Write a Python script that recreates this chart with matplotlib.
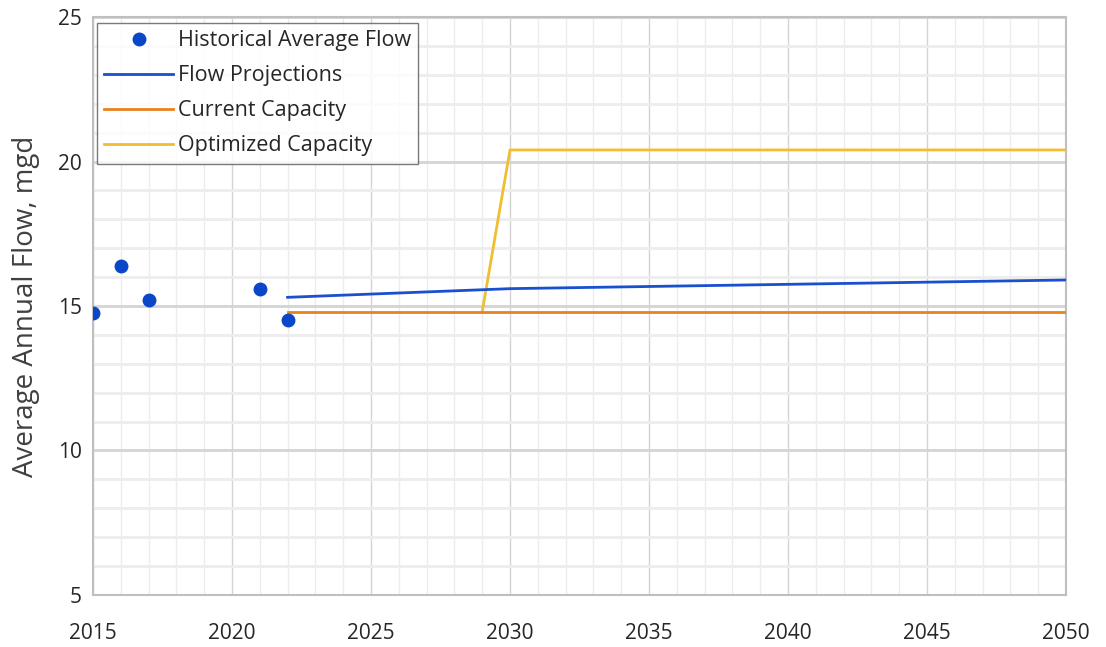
import numpy as np
import matplotlib.pyplot as plt
from matplotlib.ticker import MultipleLocator

plt.rcParams['font.family'] = ['Open Sans', 'DejaVu Sans']

# historical data
hist_years = [2015, 2016, 2017, 2021, 2022]
hist_flow = [14.75, 16.4, 15.2, 15.6, 14.5]

# projections
proj_years = [2022, 2030, 2050]
proj_flow = [15.3, 15.6, 15.9]

cur_years = [2022, 2050]
cur_cap = [14.8, 14.8]

opt_years = [2029, 2030, 2050]
opt_cap = [14.8, 20.4, 20.4]

fig = plt.figure(figsize=(11.06, 6.47), dpi=100)
ax = fig.add_axes([0.0841, 0.0804, 0.8797, 0.8933])

ax.plot(hist_years, hist_flow, 'o', color='#0a47c8', markersize=9, label="Historical Average Flow", zorder=5)
ax.plot(proj_years, proj_flow, color='#1a4fd0', lw=2, label="Flow Projections", zorder=4)
ax.plot(cur_years, cur_cap, color='#e8821e', lw=2, label="Current Capacity", zorder=4)
ax.plot(opt_years, opt_cap, color='#f0be32', lw=2, label="Optimized Capacity", zorder=3)

ax.set_xlim(2015, 2050)
ax.set_ylim(5, 25)
ax.xaxis.set_major_locator(MultipleLocator(5))
ax.xaxis.set_minor_locator(MultipleLocator(1))
ax.yaxis.set_major_locator(MultipleLocator(5))
ax.yaxis.set_minor_locator(MultipleLocator(1))

ax.grid(True, which='major', axis='x', color='#d4d4d4', lw=1)
ax.grid(True, which='minor', axis='x', color='#ececec', lw=1)
ax.grid(True, which='major', axis='y', color='#d4d4d4', lw=2)
ax.grid(True, which='minor', axis='y', color='#ededed', lw=2)
ax.set_axisbelow(True)

ax.tick_params(which='both', length=0, labelsize=15, colors='#262626')
ax.tick_params(axis='x', pad=20)
ax.tick_params(axis='y', pad=8)
for s in ax.spines.values():
    s.set_color('#bfbfbf')
    s.set_linewidth(1.5)

ax.set_ylabel("Average Annual Flow, mgd", fontsize=20, color='#404040', labelpad=13)

leg = ax.legend(loc='upper left', bbox_to_anchor=(0.004, 0.99), fontsize=15.5, frameon=True,
                fancybox=False, edgecolor='#595959', handlelength=3.2, borderpad=0.35,
                labelspacing=0.65, handletextpad=0.2, borderaxespad=0)
leg.get_frame().set_linewidth(1)
for t in leg.get_texts():
    t.set_color('#262626')

plt.savefig("out.png", dpi=100)
